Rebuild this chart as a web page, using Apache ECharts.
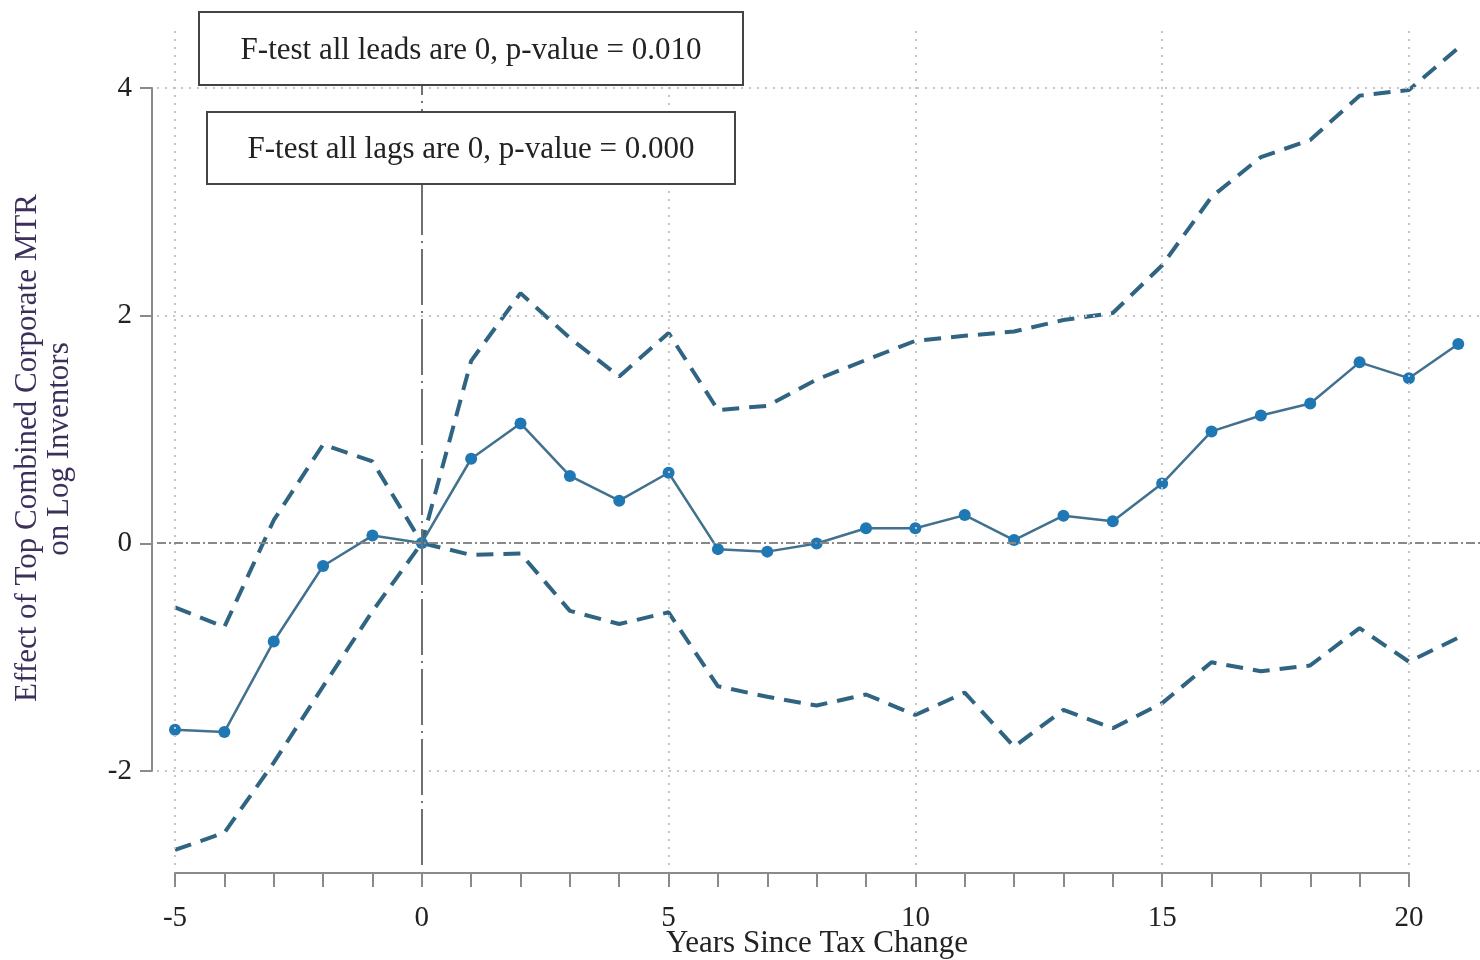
<!DOCTYPE html>
<html>
<head>
<meta charset="utf-8">
<script src="https://cdn.jsdelivr.net/npm/echarts@6/dist/echarts.min.js"></script>
<style>
html,body{margin:0;padding:0;background:#fff;}
#chart{width:1480px;height:960px;}
</style>
</head>
<body>
<div id="chart"></div>
<script>
// ---- data ----
var years = [-5,-4,-3,-2,-1,0,1,2,3,4,5,6,7,8,9,10,11,12,13,14,15,16,17,18,19,20,21];
var estimate = [-1.64,-1.66,-0.865,-0.202,0.065,0,0.74,1.05,0.589,0.372,0.617,-0.054,-0.076,-0.005,0.13,0.13,0.245,0.026,0.24,0.19,0.522,0.98,1.12,1.225,1.587,1.448,1.748];
var upperCI = [-0.565,-0.738,0.2,0.865,0.716,0,1.6,2.195,1.8,1.463,1.845,1.168,1.205,1.436,1.608,1.776,1.82,1.858,1.959,2.02,2.44,3.04,3.39,3.54,3.93,3.98,4.35];
var lowerCI = [-2.697,-2.545,-1.93,-1.26,-0.6,0,-0.105,-0.092,-0.596,-0.712,-0.609,-1.259,-1.351,-1.428,-1.331,-1.511,-1.315,-1.789,-1.467,-1.627,-1.407,-1.048,-1.127,-1.076,-0.748,-1.043,-0.832];
var yTicks = [-2, 0, 2, 4];
var xTicks = [-5, 0, 5, 10, 15, 20];
var gridY = [4, 2, -2];
var gridX = [-5, 5, 10, 15, 20];
var box1Text = 'F-test all leads are 0, p-value = 0.010';
var box2Text = 'F-test all lags are 0, p-value = 0.000';
var xTitle = 'Years Since Tax Change';
var yTitle1 = 'Effect of Top Combined Corporate MTR';
var yTitle2 = 'on Log Inventors';

function pairs(ys){ return years.map(function(x,i){ return [x, ys[i]]; }); }

var FONT = '"Liberation Serif", "DejaVu Serif", serif';
var axisGrey = '#8a8a8a';
var ciColor = '#2f6482';

var gridLineData = [];
gridY.forEach(function(v){ gridLineData.push({yAxis: v}); });
gridX.forEach(function(v){ gridLineData.push({xAxis: v}); });

var chart = echarts.init(document.getElementById('chart'), null, {renderer: 'canvas'});
var option = {
  animation: false,
  backgroundColor: '#fff',
  grid: [
    {left: 157, right: 0, top: 27, bottom: 95},
    {left: 152, top: 88, height: 683, width: 100},
    {left: 175, width: 1234, top: 872, height: 1}
  ],
  xAxis: [
    {gridIndex: 0, type: 'value', min: -5.365, max: 21.44, show: false},
    {gridIndex: 1, type: 'value', min: 0, max: 1, show: false},
    {gridIndex: 2, type: 'value', min: -5, max: 20, interval: 5, position: 'bottom',
      axisLine: {show: true, onZero: false, lineStyle: {color: axisGrey, width: 2}},
      axisTick: {show: true, length: 14, lineStyle: {color: axisGrey, width: 2}},
      minorTick: {show: true, splitNumber: 5, length: 14, lineStyle: {color: axisGrey, width: 2}},
      axisLabel: {margin: 31, fontFamily: FONT, fontSize: 29, color: '#222',
        formatter: function(v){ return xTicks.indexOf(v) >= 0 ? String(v) : ''; }},
      splitLine: {show: false}
    }
  ],
  yAxis: [
    {gridIndex: 0, type: 'value', min: -2.829, max: 4.533, show: false},
    {gridIndex: 1, type: 'value', min: -2, max: 4, interval: 2, position: 'left',
      axisLine: {show: true, onZero: false, lineStyle: {color: axisGrey, width: 2}},
      axisTick: {show: true, length: 12, lineStyle: {color: axisGrey, width: 2}},
      axisLabel: {margin: 20, fontFamily: FONT, fontSize: 29, color: '#222',
        formatter: function(v){ return yTicks.indexOf(v) >= 0 ? String(v) : ''; }},
      splitLine: {show: false}
    },
    {gridIndex: 2, type: 'value', min: 0, max: 1, show: false}
  ],
  series: [
    {
      name: 'grid', type: 'line', xAxisIndex: 0, yAxisIndex: 0, data: [], silent: true,
      markLine: {silent: true, symbol: 'none', label: {show: false},
        lineStyle: {color: '#c4c4c4', width: 2, type: [2, 6]},
        data: gridLineData}
    },
    {
      name: 'zero', type: 'line', xAxisIndex: 0, yAxisIndex: 0, data: [], silent: true,
      markLine: {silent: true, symbol: 'none', label: {show: false},
        data: [
          {yAxis: 0, lineStyle: {color: '#888', width: 2, type: [9, 3, 2, 3]}},
          {xAxis: 0, lineStyle: {color: '#707070', width: 2, type: [56, 6, 2, 6]}}
        ]}
    },
    {
      name: 'upper', type: 'line', xAxisIndex: 0, yAxisIndex: 0, data: pairs(upperCI),
      showSymbol: false, symbol: 'none',
      lineStyle: {color: ciColor, width: 4, type: [17, 10]}
    },
    {
      name: 'lower', type: 'line', xAxisIndex: 0, yAxisIndex: 0, data: pairs(lowerCI),
      showSymbol: false, symbol: 'none',
      lineStyle: {color: ciColor, width: 4, type: [17, 10]}
    },
    {
      name: 'estimate', type: 'line', xAxisIndex: 0, yAxisIndex: 0, data: pairs(estimate),
      symbol: 'circle', symbolSize: 12,
      lineStyle: {color: '#42718f', width: 2.5},
      itemStyle: {color: '#1f77b4'}
    }
  ],
  graphic: [
    {type: 'rect', shape: {x: 199, y: 12, width: 544, height: 73},
      style: {fill: '#fff', stroke: '#444', lineWidth: 2}, z: 100},
    {type: 'text', x: 471, y: 51, z: 101,
      style: {text: box1Text, font: '31px ' + FONT, fill: '#222', textAlign: 'center', textVerticalAlign: 'middle'}},
    {type: 'rect', shape: {x: 207, y: 112, width: 528, height: 72},
      style: {fill: '#fff', stroke: '#444', lineWidth: 2}, z: 100},
    {type: 'text', x: 471, y: 150, z: 101,
      style: {text: box2Text, font: '31px ' + FONT, fill: '#222', textAlign: 'center', textVerticalAlign: 'middle'}},
    {type: 'text', x: 817, y: 944,
      style: {text: xTitle, font: '31px ' + FONT, fill: '#222', textAlign: 'center', textVerticalAlign: 'middle'}},
    {type: 'text', x: 28, y: 448, rotation: Math.PI / 2,
      style: {text: yTitle1, font: '31px ' + FONT, fill: '#3c2f5c', textAlign: 'center', textVerticalAlign: 'middle'}},
    {type: 'text', x: 60, y: 449, rotation: Math.PI / 2,
      style: {text: yTitle2, font: '31px ' + FONT, fill: '#3c2f5c', textAlign: 'center', textVerticalAlign: 'middle'}}
  ]
};
chart.setOption(option);
</script>
</body>
</html>
